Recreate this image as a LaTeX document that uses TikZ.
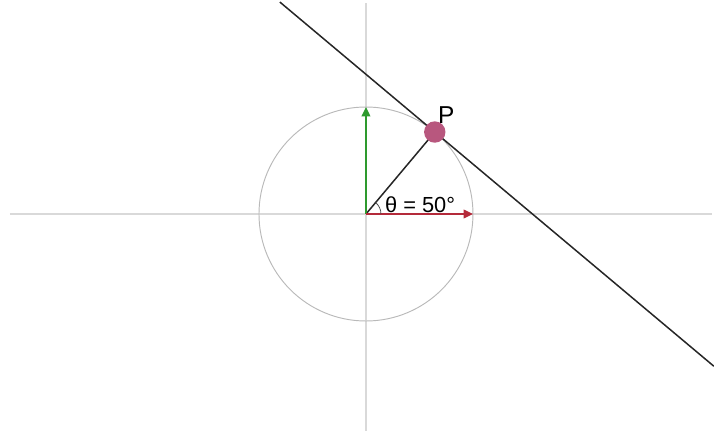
\documentclass[tikz,border=0pt]{standalone}
\usepackage{fontspec}
\setmainfont{Liberation Sans}
\usetikzlibrary{arrows.meta,calc}
\definecolor{pdot}{HTML}{B8577E}
\definecolor{vred}{HTML}{B42A3A}
\definecolor{vgreen}{HTML}{2E9A2E}
\begin{document}
\begin{tikzpicture}[>={Triangle[length=5pt,width=4.6pt]},
        axis/.style={gray!30, line width=0.8pt},
        ring/.style={gray!55, line width=0.5pt},
        tline/.style={black!85, line width=0.8pt},
        pdotstyle/.style={circle, fill=pdot, minimum size=0.4cm, inner sep=0pt}]
        \useasboundingbox (-6.841,-4.056) rectangle (6.505,4.0);
        % ---- 坐标轴 ----
        \coordinate (O) at (0,0);
        \coordinate (XL) at (-6.654,0);
        \coordinate (XR) at (6.467,0);
        \coordinate (YT) at (0,3.944);
        \coordinate (YB) at (0,-4.056);
        \draw[axis] (XL) -- (XR);
        \draw[axis] (YB) -- (YT);
        % ---- 单位圆 ----
        \draw[ring] (O) circle (2);
        % ---- 点 P 与切线 ----
        \coordinate (Pc) at (50:2);
        \coordinate (T1) at ($(Pc)+(140:3.78)$);
        \coordinate (T2) at ($(Pc)+(-40:6.81)$);
        \draw[tline] (T1) -- (T2);
        \draw[tline] (O) -- (Pc);
        % ---- 向量 ----
        \coordinate (E1) at (2,0);
        \coordinate (E2) at (0,2);
        \draw[->, vgreen, line width=0.9pt] (O) -- (E2);
        \draw[->, vred, line width=0.9pt] (O) -- (E1);
        % ---- 角度 ----
        \draw[black!70, line width=0.4pt] (0.28,0) arc (0:50:0.28);
        \node[anchor=base west, font=\fontsize{11.6}{13}\selectfont, inner sep=0pt] (lab) at (0.35,0.03) {θ = 50°};
        \node[pdotstyle] (P) at (Pc) {};
        \node[font=\fontsize{13}{15}\selectfont, inner sep=0pt] (Plab) at (1.50,1.84) {P};
\end{tikzpicture}
\end{document}
